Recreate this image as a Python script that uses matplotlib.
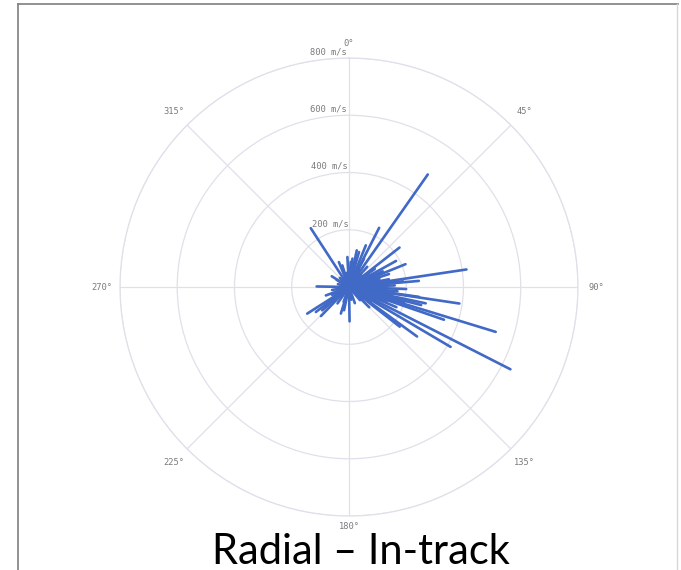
import numpy as np
import matplotlib.pyplot as plt
from matplotlib.lines import Line2D

# direction (deg, clockwise from top) and magnitude (m/s) of each delta-v
angles = [35, 327, 27, 52, 61, 68, 81.5, 85, 79, 98.5,
          102, 109, 107, 117, 120.5, 126, 128, 179, 237.5, 224,
          197, 271, 302, 16, 4, 343, 28, 22, 72, 42,
          98, 233, 229, 192, 250, 233, 357, 7, 12, 338,
          75, 65, 88, 92, 95, 100, 105, 113, 118, 135,
          140, 300, 315, 260, 200, 160, 215, 45, 55, 104,
          84, 90, 110, 123, 58, 33, 350, 285, 245, 170]
speeds = [480, 245, 232, 224, 188, 213, 415, 245, 142, 390,
          274, 351, 536, 633, 412, 294, 225, 120, 173, 141,
          97, 113, 71, 127, 88, 79, 112, 157, 147, 95,
          247, 145, 124, 83, 86, 87, 105, 100, 131, 94,
          110, 130, 160, 200, 170, 150, 200, 180, 120, 100,
          60, 50, 45, 60, 55, 60, 70, 60, 110, 260,
          190, 120, 140, 90, 80, 70, 50, 40, 65, 45]

ring_values = [200, 400, 600, 800]
ring_labels = ['200 m/s', '400 m/s', '600 m/s', '800 m/s']
spoke_angles = [0, 45, 90, 135, 180, 225, 270, 315]
spoke_labels = ['0°', '45°', '90°', '135°', '180°', '225°', '270°', '315°']

GRID = '#e0e0ea'
LINE = '#4169c6'
LABEL = '#7a7a7a'

fig = plt.figure(figsize=(6.81, 5.70), dpi=100)
ax = fig.add_axes([0.1762, 0.0947, 0.6725, 0.8035], projection='polar')
ax.set_theta_zero_location('N')
ax.set_theta_direction(-1)
ax.set_rlim(0, 800)

for a, v in zip(angles, speeds):
  t = np.radians(a)
  ax.plot([t, t], [0, v], color=LINE, lw=1.9, solid_capstyle='round')

ax.set_thetagrids(spoke_angles, [''] * len(spoke_angles))
ax.set_rgrids(ring_values, [''] * len(ring_values))
ax.grid(color=GRID, lw=0.9)
ax.spines['polar'].set_color(GRID)
ax.spines['polar'].set_linewidth(0.9)
ax.tick_params(length=0)

for r, lab in zip(ring_values, ring_labels):
  ax.text(np.radians(-0.6), r + 6, lab, ha='right', va='bottom',
          fontsize=6.3, family='DejaVu Sans Mono', color=LABEL)
for a, lab in zip(spoke_angles, spoke_labels):
  r = {0: 850, 180: 836}.get(a, 865)
  ax.text(np.radians(a), r, lab, ha='center', va='center',
          fontsize=6.3, family='DejaVu Sans Mono', color=LABEL)

fig.text(0.530, 0.010, 'Radial – In-track', ha='center', va='baseline',
         fontsize=30, family='Lato', color='black')

# screenshot frame
fig.add_artist(Line2D([18/681, 18/681], [0, 1 - 4/570], transform=fig.transFigure,
                      color='#7f7f7f', lw=1.2))
fig.add_artist(Line2D([18/681, 678/681], [1 - 4/570, 1 - 4/570], transform=fig.transFigure,
                      color='#7f7f7f', lw=1.2))
fig.add_artist(Line2D([677/681, 677/681], [0, 1 - 4/570], transform=fig.transFigure,
                      color='#d8d8d8', lw=1.0))

fig.savefig('out.png', dpi=100)
